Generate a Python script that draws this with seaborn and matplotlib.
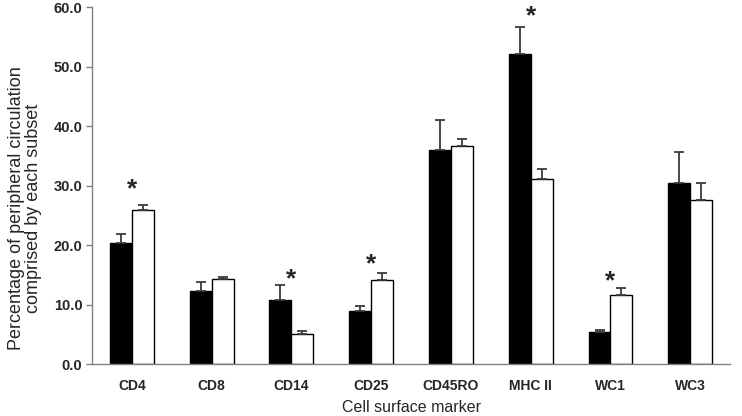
import numpy as np
import pandas as pd
import matplotlib
matplotlib.use("Agg")
import matplotlib.pyplot as plt
import seaborn as sns

# data
markers = ['CD4', 'CD8', 'CD14', 'CD25', 'CD45RO', 'MHC II', 'WC1', 'WC3']
black_vals = [20.3, 12.2, 10.8, 8.9, 36.0, 52.1, 5.4, 30.5]
black_err = [1.6, 1.6, 2.4, 0.9, 5.1, 4.5, 0.3, 5.2]
white_vals = [25.9, 14.3, 5.0, 14.1, 36.7, 31.1, 11.6, 27.5]
white_err = [0.8, 0.3, 0.5, 1.2, 1.2, 1.7, 1.2, 2.9]
star_markers = ['CD4', 'CD14', 'CD25', 'MHC II', 'WC1']
star_y = [29.4, 14.2, 16.7, 58.4, 13.9]

df = pd.DataFrame({
    'marker': markers * 2,
    'value': black_vals + white_vals,
    'err': black_err + white_err,
    'group': ['A'] * len(markers) + ['B'] * len(markers),
})

sns.set_style('white')
plt.rcParams['font.family'] = ['Liberation Sans', 'DejaVu Sans']

fig = plt.figure(figsize=(7.42, 4.16), dpi=100)
ax = fig.add_axes([0.124, 0.125, 0.86, 0.858])

sns.barplot(data=df, x='marker', y='value', hue='group', order=markers,
            palette=['black', 'white'], edgecolor='black', linewidth=1.0,
            width=0.55, gap=0, errorbar=None, legend=False, ax=ax)

# upward-only error bars
for patch, e in zip(ax.patches, black_err + white_err):
    cx = patch.get_x() + patch.get_width() / 2
    h = patch.get_height()
    ax.errorbar(cx, h, yerr=[[0], [e]], fmt='none', ecolor='#3a3a3a',
                elinewidth=1.3, capsize=3.5, capthick=1.3)

for m, y in zip(star_markers, star_y):
    ax.text(markers.index(m), y, '*', ha='center', va='center',
            fontsize=19, fontweight='bold')

ax.set_xlim(-0.5, len(markers) - 0.5)
ax.set_ylim(0, 60)
ax.set_yticks(np.arange(0, 61, 10))
ax.set_yticklabels([f'{v:.1f}' for v in np.arange(0, 61, 10)],
                   fontsize=10.5, fontweight='bold')
ax.set_xticks(range(len(markers)))
ax.set_xticklabels(markers, fontsize=10, fontweight='bold')
ax.set_xticks(np.arange(-0.5, len(markers)), minor=True)
ax.tick_params(axis='x', which='major', length=0, pad=11)
ax.tick_params(axis='x', which='minor', length=4, color='#808080', width=1)
ax.tick_params(axis='y', length=4, color='#808080', width=1, left=True, pad=3)

for s in ['top', 'right']:
    ax.spines[s].set_visible(False)
for s in ['left', 'bottom']:
    ax.spines[s].set_color('#808080')
    ax.spines[s].set_linewidth(1.0)

ax.set_xlabel('Cell surface marker', fontsize=11.5, va='baseline')
ax.xaxis.set_label_coords(0.5, -0.135)
ax.set_ylabel('Percentage of peripheral circulation\ncomprised by each subset',
              fontsize=13, linespacing=1.05)
ax.yaxis.set_label_coords(-0.078, 0.437)

fig.savefig('out.png', dpi=100)
